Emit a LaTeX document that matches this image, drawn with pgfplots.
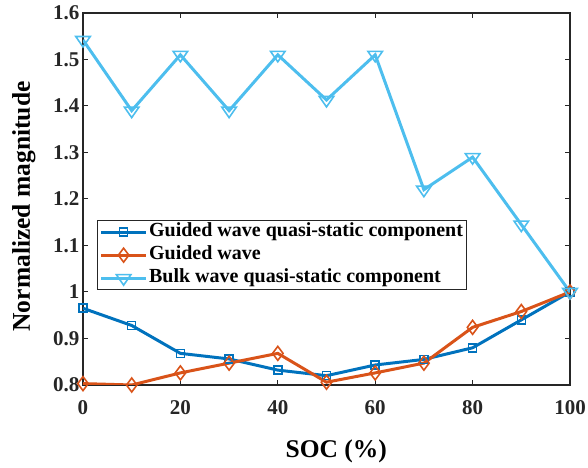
\documentclass[border=0pt]{standalone}
\usepackage{pgfplots}
\pgfplotsset{compat=1.18}
\usepackage{fontspec}
\setmainfont{Liberation Serif}
\definecolor{mblue}{RGB}{0,114,189}
\definecolor{morange}{RGB}{217,83,25}
\definecolor{mcyan}{RGB}{77,190,238}
\definecolor{axgray}{RGB}{38,38,38}
\begin{document}
\begin{tikzpicture}
\begin{axis}[
  name=ax,
  scale only axis,
  width=487bp, height=372bp,
  xmin=0, xmax=100, ymin=0.8, ymax=1.6,
  xtick={0,20,40,60,80,100},
  ytick={0.8,0.9,1,1.1,1.2,1.3,1.4,1.5,1.6},
  yticklabels={0.8,0.9,1,1.1,1.2,1.3,1.4,1.5,1.6},
  tick align=inside,
  major tick length=5bp,
  axis line style={line width=1.3pt, axgray},
  every tick/.style={axgray, line width=1pt},
  /pgf/number format/assume math mode=true,
  tick label style={font=\fontsize{21bp}{25bp}\selectfont\bfseries, text=axgray},
  xticklabel style={yshift=-12bp},
  xlabel={SOC (\%)},
  ylabel={Normalized magnitude},
  label style={font=\fontsize{25.5bp}{30bp}\selectfont\bfseries},
  xlabel style={at={(axis description cs:0.52,0)}, anchor=base, yshift=-73bp},
  ylabel style={at={([xshift=-53bp]axis description cs:0,0.48)}, anchor=base},
  legend style={at={(0.0287,0.4435)}, anchor=north west,
    font=\fontsize{20bp}{24bp}\selectfont\bfseries,
    draw=axgray, line width=1.3pt, inner xsep=2bp, inner ysep=0.5bp,
    nodes={inner sep=1.5bp, text height=14bp, text depth=5bp},
    row sep=1bp, column sep=0bp},
  legend cell align=left,
  legend image code/.code={
    \draw[#1] (0bp,0bp) -- (45bp,0bp);
    \draw[#1, only marks] plot coordinates {(22.5bp,0bp)};
  },
]
\addplot[mblue, line width=3pt, mark=square, mark size=4bp, mark options={line width=1.6pt}] coordinates {
(0,0.965) (10,0.928) (20,0.868) (30,0.856) (40,0.832) (50,0.820) (60,0.843) (70,0.855) (80,0.880) (90,0.940) (100,1.0)};
\addlegendentry{Guided wave quasi-static component}
\addplot[morange, line width=3pt, mark=diamond, mark size=7bp, mark options={line width=1.6pt}] coordinates {
(0,0.803) (10,0.800) (20,0.826) (30,0.847) (40,0.868) (50,0.806) (60,0.826) (70,0.847) (80,0.924) (90,0.958) (100,1.0)};
\addlegendentry{Guided wave}
\addplot[mcyan, line width=3pt, mark=triangle, mark size=7bp, mark options={line width=1.6pt, rotate=180, xscale=1.2}] coordinates {
(0,1.542) (10,1.390) (20,1.510) (30,1.390) (40,1.510) (50,1.413) (60,1.510) (70,1.220) (80,1.290) (90,1.145) (100,1.0)};
\addlegendentry{Bulk wave quasi-static component}
\end{axis}
\pgfresetboundingbox
\path ([xshift=-83bp,yshift=-83bp]ax.south west) rectangle ([xshift=18bp,yshift=13bp]ax.north east);
\end{tikzpicture}
\end{document}
